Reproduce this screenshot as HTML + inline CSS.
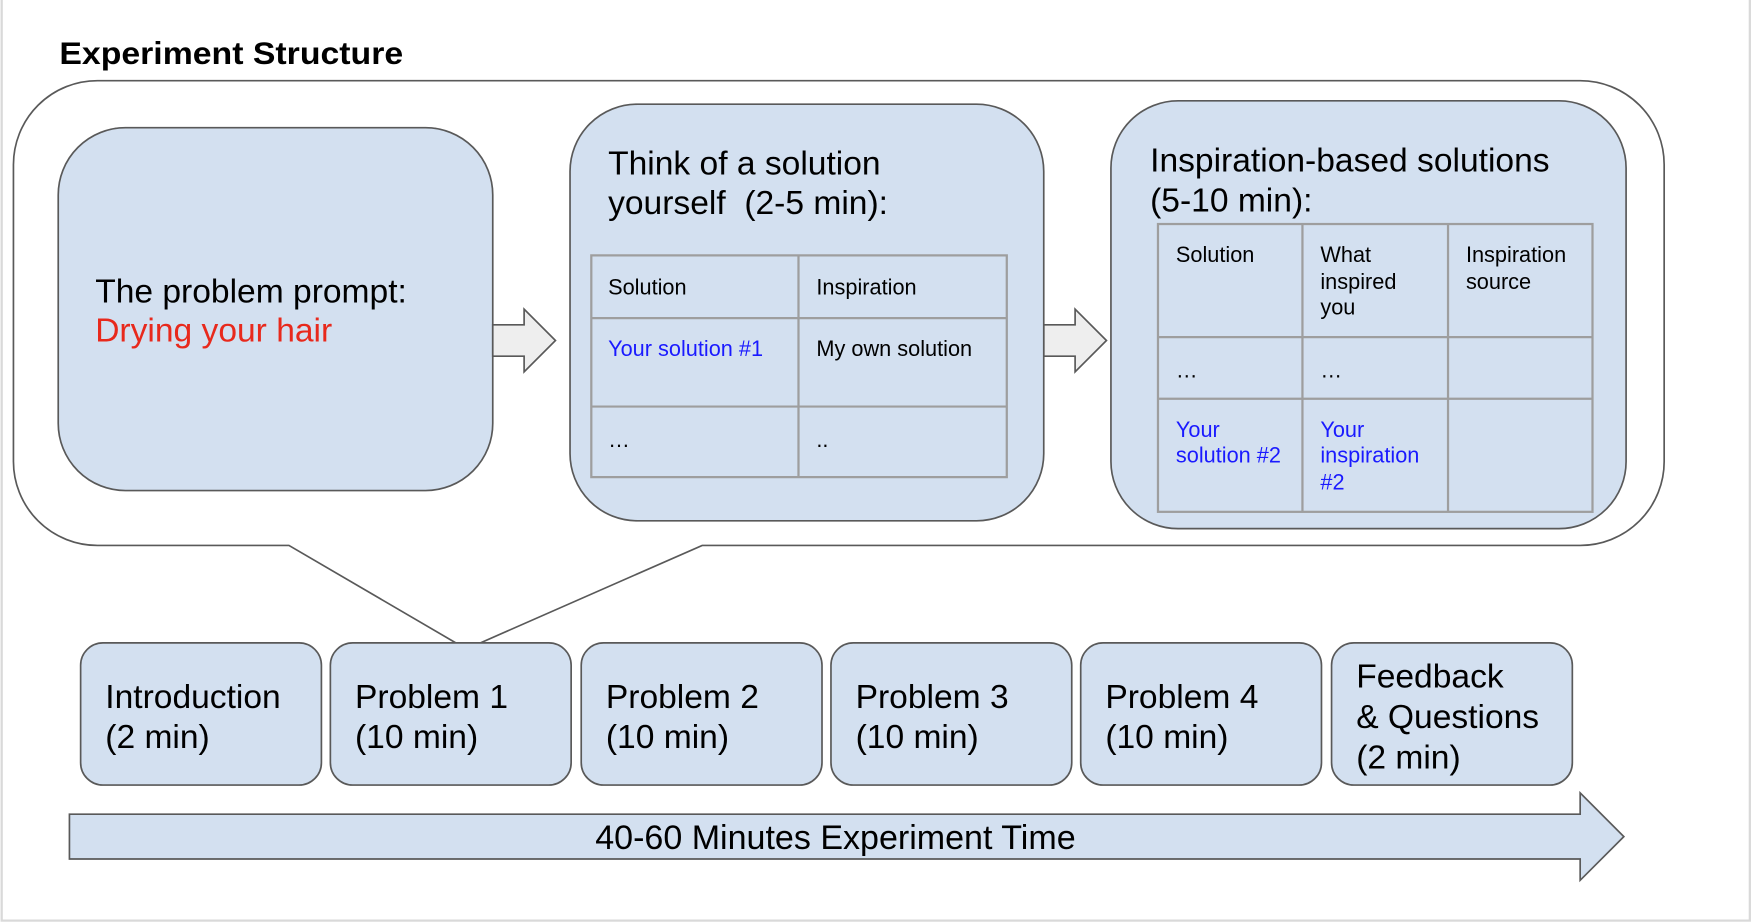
<!DOCTYPE html>
<html><head><style>html,body{margin:0;padding:0;background:#fff}svg{display:block}</style></head>
<body>
<svg width="1756" height="924" viewBox="0 0 1568 825" xmlns="http://www.w3.org/2000/svg" font-family="Liberation Sans, Arial, sans-serif">
<rect x="0" y="0" width="1568" height="825" fill="#fff"/>
<rect x="1.5" y="-2" width="1561" height="824" fill="none" stroke="#d9d9d9" stroke-width="2"/>
<text x="53" y="57" font-size="28" font-weight="bold" fill="#000" textLength="307" lengthAdjust="spacingAndGlyphs">Experiment Structure</text>
<!-- callout -->
<path d="M87,72 H1411 A75,75 0 0 1 1486,147 V412 A75,75 0 0 1 1411,487 H627 L429,574 L407,574 L258,487 H87 A75,75 0 0 1 12,412 V147 A75,75 0 0 1 87,72 Z" fill="#fff" stroke="#595959" stroke-width="1.5"/>
<!-- box1 -->
<rect x="52" y="114" width="388" height="324" rx="60" fill="#d3e0f0" stroke="#595959" stroke-width="1.5"/>
<text x="85" y="270" font-size="30">The problem prompt:</text>
<text x="85" y="305" font-size="30" fill="#e8291c">Drying your hair</text>
<!-- arrows -->
<path d="M440,290 H468 V276 L496,304 L468,332 V318 H440 Z" fill="#eeeeee" stroke="#595959" stroke-width="1.5"/>
<path d="M932,290 H960 V276 L988,304 L960,332 V318 H932 Z" fill="#eeeeee" stroke="#595959" stroke-width="1.5"/>
<!-- box2 -->
<rect x="509" y="93" width="423" height="372" rx="60" fill="#d3e0f0" stroke="#595959" stroke-width="1.5"/>
<text x="543" y="156" font-size="30">Think of a solution</text>
<text x="543" y="191" font-size="30" xml:space="preserve">yourself  (2-5 min):</text>
<g stroke="#9e9e9e" stroke-width="2" fill="none">
<rect x="528" y="228" width="371" height="198"/>
<line x1="528" y1="284" x2="899" y2="284"/><line x1="528" y1="363" x2="899" y2="363"/>
<line x1="713" y1="228" x2="713" y2="426"/>
</g>
<g font-size="19.4">
<text x="543" y="263">Solution</text><text x="729" y="263">Inspiration</text>
<text x="543" y="318" fill="#1a1aff">Your solution #1</text><text x="729" y="318">My own solution</text>
<text x="543" y="399">…</text><text x="729" y="399">..</text>
</g>
<!-- box3 -->
<rect x="992" y="90" width="460" height="382" rx="60" fill="#d3e0f0" stroke="#595959" stroke-width="1.5"/>
<text x="1027" y="153" font-size="30">Inspiration-based solutions</text>
<text x="1027" y="189" font-size="30">(5-10 min):</text>
<g stroke="#9e9e9e" stroke-width="2" fill="none">
<rect x="1034" y="200" width="388" height="257"/>
<line x1="1034" y1="301" x2="1422" y2="301"/><line x1="1034" y1="356" x2="1422" y2="356"/>
<line x1="1163" y1="200" x2="1163" y2="457"/><line x1="1293" y1="200" x2="1293" y2="457"/>
</g>
<g font-size="19.4">
<text x="1050" y="234">Solution</text>
<text x="1179" y="234">What</text><text x="1179" y="258">inspired</text><text x="1179" y="281">you</text>
<text x="1309" y="234">Inspiration</text><text x="1309" y="258">source</text>
<text x="1050" y="337">…</text><text x="1179" y="337">…</text>
<g fill="#1a1aff"><text x="1050" y="390">Your</text><text x="1050" y="413">solution #2</text>
<text x="1179" y="390">Your</text><text x="1179" y="413">inspiration</text><text x="1179" y="437">#2</text></g>
</g>
<!-- bottom boxes -->
<g fill="#d3e0f0" stroke="#595959" stroke-width="1.5">
<rect x="72" y="574" width="215" height="127" rx="20"/>
<rect x="295" y="574" width="215" height="127" rx="20"/>
<rect x="519" y="574" width="215" height="127" rx="20"/>
<rect x="742" y="574" width="215" height="127" rx="20"/>
<rect x="965" y="574" width="215" height="127" rx="20"/>
<rect x="1189" y="574" width="215" height="127" rx="20"/>
</g>
<g font-size="30">
<text x="94" y="632">Introduction</text><text x="94" y="668">(2 min)</text>
<text x="317" y="632">Problem 1</text><text x="317" y="668">(10 min)</text>
<text x="541" y="632">Problem 2</text><text x="541" y="668">(10 min)</text>
<text x="764" y="632">Problem 3</text><text x="764" y="668">(10 min)</text>
<text x="987" y="632">Problem 4</text><text x="987" y="668">(10 min)</text>
<text x="1211" y="614">Feedback</text><text x="1211" y="650">&amp; Questions</text><text x="1211" y="686">(2 min)</text>
</g>
<!-- timeline arrow -->
<path d="M62,727 H1411 V708 L1450,747 L1411,786 V767 H62 Z" fill="#d3e0f0" stroke="#595959" stroke-width="1.5"/>
<text x="746" y="758" font-size="30.4" text-anchor="middle">40-60 Minutes Experiment Time</text>
</svg>
</body></html>
